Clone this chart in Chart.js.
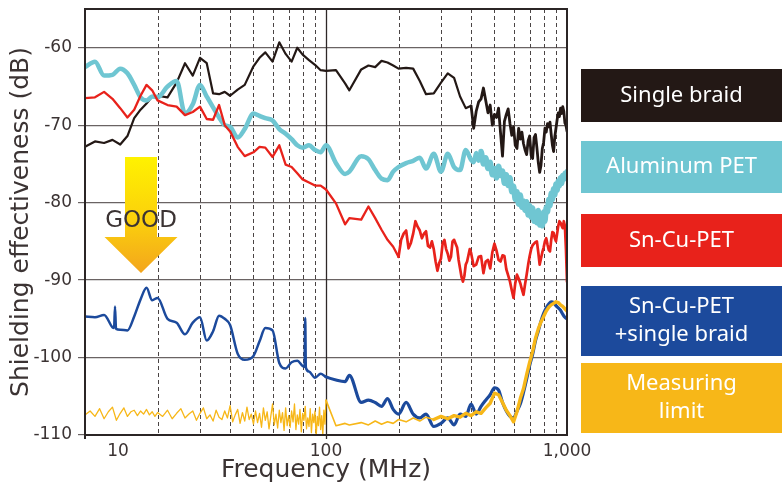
<!DOCTYPE html>
<html>
<head>
<meta charset="utf-8">
<title>Shielding effectiveness</title>
<script src="https://cdn.jsdelivr.net/npm/chart.js@4.4.1/dist/chart.umd.min.js"></script>
<style>
  html, body { margin: 0; padding: 0; background: #fff; }
  canvas { display: block; }
</style>
</head>
<body>
<canvas id="shieldChart" width="782" height="486"></canvas>
<script>
// frequency grid (MHz); shorter value arrays use the first entries only
const freqs = [
  10, 11, 12, 13, 14, 15, 16, 17, 18, 19,
  20, 22, 24, 26, 28, 30, 32, 34, 36, 38,
  40, 43, 46, 50, 53, 56, 60, 64, 68, 72,
  76, 80, 85, 90, 95, 100, 110, 120, 125, 140,
  150, 160, 170, 180, 190, 200, 215, 230, 245, 260,
  280, 300, 320, 340, 360, 380, 400, 420, 440, 460,
  480, 500, 520, 540, 560, 580, 600, 620, 640, 660,
  680, 700, 720, 740, 760, 780, 800, 820, 840, 860,
  880, 900, 920, 940, 960, 980, 1000
];
// finer steps where the traces become noisy
const midFreqs = [
  205, 210, 215, 220, 225, 230, 235, 240, 245, 250,
  255, 260, 265, 270, 275, 280, 285, 290, 295, 300,
  305, 310, 315, 320, 325, 330, 335, 340, 345, 350,
  355, 360, 365, 370, 375, 380, 385, 390, 395, 400
];
const hfFreqs = [
  410, 420, 430, 440, 450, 460, 470, 480, 490, 500,
  510, 520, 530, 540, 550, 560, 570, 580, 590, 600,
  610, 620, 630, 640, 650, 660, 670, 680, 690, 700,
  710, 720, 730, 740, 750, 760, 770, 780, 790, 800,
  810, 820, 830, 840, 850, 860, 870, 880, 890, 900,
  910, 920, 930, 940, 950, 960, 970, 980, 990, 1000
];

// shielding effectiveness (dB)
const singleBraid = [ // 10 .. 400 MHz
  -72.8, -72.1, -72.3, -71.9, -72.5, -71.4, -69.1, -68.0, -67.2, -66.3,
  -66.2, -66.4, -64.5, -62.0, -63.6, -61.3, -62.0, -65.9, -66.0, -65.7,
  -66.2, -65.4, -64.8, -62.4, -61.3, -60.6, -61.8, -59.3, -60.8, -61.8,
  -60.0, -60.9, -61.6, -62.2, -62.9, -63.0, -62.9, -64.6, -65.5, -62.8,
  -62.3, -62.5, -61.7, -61.9, -62.3, -62.7, -62.6, -62.7, -64.3, -66.0,
  -65.9, -64.5, -63.3, -63.9, -66.3, -67.8, -67.5
];
const singleBraidHF = [
  -70.4, -68.2, -67.0, -66.6, -65.2, -66.8, -68.4, -67.4, -70.0, -68.6,
  -69.0, -67.8, -71.0, -74.0, -69.5, -68.6, -67.9, -69.8, -71.3, -70.2,
  -72.6, -73.0, -70.4, -71.8, -70.9, -72.4, -73.2, -73.8, -72.0, -71.4,
  -73.9, -74.3, -71.6, -71.2, -72.9, -74.8, -76.1, -75.2, -73.0, -72.2,
  -70.4, -70.9, -69.8, -70.2, -69.6, -71.2, -72.6, -73.4, -71.5, -70.4,
  -69.3, -68.4, -68.9, -67.8, -68.5, -67.6, -68.2, -69.7, -70.0, -70.8
];

const aluminumPet = [ // 10 .. 400 MHz
  -62.5, -61.8, -63.6, -63.5, -62.7, -63.3, -64.8, -66.4, -66.8, -66.3,
  -66.4, -65.0, -64.3, -68.5, -67.3, -64.8, -66.3, -67.7, -69.0, -70.0,
  -70.2, -71.6, -70.5, -68.5, -68.8, -69.1, -69.4, -70.5, -71.1, -71.8,
  -72.6, -72.9, -72.6, -73.2, -73.5, -72.6, -74.9, -76.3, -76.0, -74.0,
  -74.4, -75.8, -76.9, -77.1, -76.0, -75.4, -74.9, -74.6, -74.2, -75.6,
  -73.7, -76.0, -73.7, -75.4, -75.8, -73.2, -74.5
];
const aluminumPetHF = [
  -74.8, -73.6, -74.6, -73.4, -75.0, -74.2, -75.6, -74.8, -76.4, -75.6,
  -76.8, -75.3, -76.5, -75.9, -77.5, -76.4, -77.8, -76.8, -78.6, -77.9,
  -79.6, -78.6, -80.2, -79.0, -80.6, -79.8, -81.0, -79.9, -81.6, -80.4,
  -81.9, -80.7, -82.4, -81.2, -82.6, -81.0, -82.9, -81.6, -83.0, -81.2,
  -82.4, -80.6, -81.2, -79.6, -80.4, -78.8, -79.6, -78.2, -79.0, -77.6,
  -78.4, -77.2, -77.8, -76.8, -77.5, -76.5, -77.0, -76.2, -76.8, -76.0
];

const snCuPet = [ // 10 .. 200 MHz
  -66.5, -66.4, -65.7, -66.6, -67.8, -69.0, -68.0, -66.2, -64.8, -65.5,
  -66.8, -67.4, -67.6, -68.7, -68.3, -67.6, -69.2, -69.3, -67.4, -70.0,
  -70.8, -72.8, -74.0, -73.5, -72.8, -72.9, -74.1, -72.6, -75.1, -75.4,
  -76.2, -77.0, -77.4, -77.8, -77.8, -78.3, -80.1, -82.8, -82.0, -82.2,
  -80.5, -82.0, -83.5, -84.8, -85.7, -87.0
];
const snCuPetMid = [
  -84.8, -84.0, -83.6, -85.9, -85.2, -84.0, -82.4, -83.1, -83.6, -84.6,
  -84.0, -83.7, -85.6, -85.8, -85.0, -86.0, -87.6, -88.8, -87.8, -87.2,
  -85.2, -84.8, -86.0, -86.6, -87.5, -87.0, -85.0, -84.8, -85.3, -85.8,
  -87.4, -88.5, -89.6, -90.2, -89.5, -88.0, -87.6, -86.8, -86.0, -86.5
];
const snCuPetHF = [
  -88.2, -88.0, -87.0, -86.9, -89.1, -87.6, -87.4, -88.5, -86.4, -85.3,
  -86.2, -87.4, -87.6, -86.8, -86.9, -88.6, -89.4, -90.2, -91.3, -92.3,
  -90.4, -89.3, -89.8, -90.4, -91.2, -91.9, -90.5, -89.3, -88.0, -86.9,
  -86.0, -85.5, -85.3, -85.1, -85.0, -86.4, -88.0, -87.2, -86.4, -85.8,
  -85.0, -84.6, -85.4, -86.1, -86.3, -84.8, -83.8, -83.9, -84.6, -85.0,
  -84.0, -83.0, -82.4, -82.6, -83.0, -83.3, -82.4, -83.0, -86.0, -90.2
];

const snCuBraid = [ // 10 .. 1000 MHz
  -94.7, -94.8, -94.5, -96.1, -96.4, -96.5, -94.7, -92.5, -91.0, -92.6,
  -92.3, -95.0, -95.5, -97.0, -95.5, -94.8, -97.8, -96.6, -94.6, -95.0,
  -95.8, -99.5, -100.3, -99.8, -97.9, -96.2, -96.5, -100.7, -101.4, -100.6,
  -100.4, -101.1, -101.8, -102.6, -102.1, -102.5, -102.9, -103.1, -102.3, -105.8,
  -105.5, -105.8, -106.3, -105.3, -106.7, -107.3, -105.8, -107.3, -107.8, -107.3,
  -108.9, -108.5, -107.8, -108.7, -107.3, -107.6, -106.0, -107.3, -106.3, -105.5,
  -104.8, -103.9, -104.2, -105.8, -106.9, -107.6, -107.8, -106.9, -106.0, -104.5,
  -102.8, -101.0, -99.6, -97.8, -96.6, -95.3, -94.3, -93.6, -93.1, -92.8,
  -92.9, -93.3, -93.6, -93.9, -94.4, -94.8, -95.0
];
// two narrow spikes on the Sn-Cu-PET + braid trace
const snCuBraidSpikeFreqs = [13.2, 13.32, 13.45, 81.5, 82.0, 82.5];
const snCuBraidSpikeVals = [-96.2, -93.4, -96.3, -101.2, -94.9, -101.3];

// measuring limit (noise floor) is sampled finer below 100 MHz
const limitFreqs = [
  10, 10.5, 11, 11.5, 12, 12.5, 13, 13.5, 14, 14.5, 15, 15.5, 16, 16.5, 17, 17.5, 18, 18.5, 19, 19.5, 20,
  21, 22, 23, 24, 25, 26, 27, 28, 29, 30, 31, 32, 33, 34, 35, 36, 37, 38, 39, 40,
  41, 42, 43, 44, 45, 46, 47, 48, 49, 50,
  51, 52, 53, 54, 55, 56, 57, 58, 59, 60, 61, 62, 63, 64, 65, 66, 67, 68, 69, 70,
  71, 72, 73, 74, 75, 76, 77, 78, 79, 80, 81, 82, 83, 84, 85, 86, 87, 88, 89, 90,
  91, 92, 93, 94, 95, 96, 97, 98, 99, 100,
  110, 120, 125, 140, 150, 160, 170, 180, 190, 200,
  215, 230, 245, 260, 280, 300, 320, 340, 360, 380, 400,
  420, 440, 460, 480, 500, 520, 540, 560, 580, 600,
  620, 640, 660, 680, 700, 720, 740, 760, 780, 800,
  820, 840, 860, 880, 900, 920, 940, 960, 980, 1000
];
const measuringLimit = [
  -107.4, -106.9, -107.6, -106.6, -107.9, -107.0, -106.4, -108.1, -107.2, -106.5, -107.6,
  -107.0, -106.8, -107.5, -106.9, -107.3, -106.7, -107.4, -107.0, -107.6, -107.1,
  -107.6, -106.8, -107.9, -107.2, -106.6, -107.8, -107.3, -106.9, -108.1, -107.2,
  -106.5, -107.9, -107.4, -108.2, -106.8, -107.7, -108.0, -106.9, -107.8, -106.2,
  -108.3, -107.4, -106.7, -108.5, -107.1, -108.2, -106.4, -108.0, -107.3, -108.6,
  -106.9, -108.4, -107.2, -109.0, -106.5, -108.1, -107.0, -109.2, -107.6, -106.0,
  -108.7, -107.3, -109.1, -106.8, -108.4, -107.1, -109.4, -106.5, -108.8, -107.5,
  -109.0, -106.9, -108.3, -106.0, -109.3, -107.4, -108.6, -106.7, -109.6, -107.2,
  -108.1, -106.3, -109.2, -107.8, -108.9, -106.6, -109.7, -107.3, -108.4, -106.9,
  -110.3, -107.6, -108.8, -106.4, -109.3, -107.5, -110.0, -106.8, -108.6, -105.5,
  -108.8, -108.5, -108.7, -108.4, -108.7, -108.2, -108.6, -108.3, -108.5, -108.0,
  -108.3, -107.8, -108.2, -107.7, -108.0, -107.6, -107.9, -107.5, -107.7, -107.2, -107.5,
  -107.0, -107.2, -106.5, -105.9, -104.6, -104.8, -105.8, -106.8, -107.5, -108.3,
  -107.0, -105.3, -104.0, -102.2, -100.6, -99.2, -97.5, -96.3, -95.4, -94.7,
  -94.0, -93.5, -93.2, -93.0, -92.8, -92.9, -93.2, -93.4, -93.7, -94.0
];

const yTicks = [-110, -100, -90, -80, -70, -60];
// the "10" label sits a little right of the 10 MHz frame edge in the original
const xTickAt = [13.7, 100, 1000];
const xTickLabels = ['10', '100', '1,000'];
const xGridLines = [20, 30, 40, 50, 60, 70, 80, 90, 100, 200, 300, 400, 500, 600, 700, 800, 900];

const seriesNames = [['Single braid'], ['Aluminum PET'], ['Sn-Cu-PET'], ['Sn-Cu-PET', '+single braid'], ['Measuring', 'limit']];
const seriesColors = ['#231815', '#6fc6d2', '#e8221b', '#1c4a9c', '#f7b718'];

const textColor = '#3b3333';
const axisFont = 'DejaVu Sans';

function toPoints(xs, ys) {
  return ys.map((v, i) => ({ x: xs[i], y: v }));
}

const braidPoints = toPoints(freqs, singleBraid).concat(toPoints(hfFreqs, singleBraidHF));
const aluPoints = toPoints(freqs, aluminumPet).concat(toPoints(hfFreqs, aluminumPetHF));
const snCuPoints = toPoints(freqs, snCuPet)
  .concat(toPoints(midFreqs, snCuPetMid))
  .concat(toPoints(hfFreqs, snCuPetHF));
const snCuBraidPoints = toPoints(freqs, snCuBraid)
  .concat(toPoints(snCuBraidSpikeFreqs, snCuBraidSpikeVals))
  .sort((a, b) => a.x - b.x);

// wider strokes where the measured traces turn into noisy bands
function widthFrom(fStart, thin, thick) {
  return c => (c.p0.parsed.x >= fStart ? thick : thin);
}

function drawGoodArrow(ctx, a) {
  const cx = a.left + 56;
  const shaftW = 32, headW = 73;
  const shaftTop = a.top + 148, headTop = a.top + 228, tip = a.top + 264;
  const grad = ctx.createLinearGradient(0, shaftTop, 0, tip);
  grad.addColorStop(0, '#fff200');
  grad.addColorStop(0.55, '#fbd00c');
  grad.addColorStop(1, '#f3a51d');
  ctx.fillStyle = grad;
  ctx.beginPath();
  ctx.moveTo(cx - shaftW / 2, shaftTop);
  ctx.lineTo(cx + shaftW / 2, shaftTop);
  ctx.lineTo(cx + shaftW / 2, headTop);
  ctx.lineTo(cx + headW / 2, headTop);
  ctx.lineTo(cx, tip);
  ctx.lineTo(cx - headW / 2, headTop);
  ctx.lineTo(cx - shaftW / 2, headTop);
  ctx.closePath();
  ctx.fill();

  ctx.fillStyle = textColor;
  ctx.font = '23px "' + axisFont + '"';
  ctx.textAlign = 'center';
  ctx.textBaseline = 'middle';
  ctx.fillText('GOOD', cx, a.top + 212);
}

const decorations = {
  id: 'decorations',
  beforeDatasetsDraw(chart) {
    const { ctx, chartArea: a, scales: { x } } = chart;
    ctx.save();
    xGridLines.forEach(v => {
      const px = Math.round(x.getPixelForValue(v)) + 0.5;
      const decade = Math.log10(v) % 1 === 0;
      ctx.beginPath();
      ctx.setLineDash(decade ? [] : [4, 3]);
      ctx.strokeStyle = decade ? '#2e2828' : '#4a4444';
      ctx.lineWidth = decade ? 1.3 : 1;
      ctx.moveTo(px, a.top);
      ctx.lineTo(px, decade ? a.bottom + 4 : a.bottom);
      ctx.stroke();
    });
    ctx.setLineDash([]);
    drawGoodArrow(ctx, a);
    ctx.restore();
  },
  afterDatasetsDraw(chart) {
    const { ctx, chartArea: a } = chart;
    ctx.save();
    ctx.strokeStyle = '#2b2525';
    ctx.lineWidth = 2;
    ctx.strokeRect(a.left, a.top, a.right - a.left, a.bottom - a.top);
    ctx.beginPath();
    ctx.moveTo(a.left, a.bottom);
    ctx.lineTo(a.left, a.bottom + 4);
    ctx.stroke();
    ctx.restore();
  },
  afterDraw(chart) {
    // colour-block legend at the right
    const { ctx, chartArea: a, width } = chart;
    const left = a.right + 14;
    const tops = [69, 141, 214, 286, 363];
    const heights = [53, 52, 53, 70, 70];
    ctx.save();
    ctx.font = '22px "Noto Sans"';
    ctx.textAlign = 'center';
    ctx.textBaseline = 'middle';
    seriesNames.forEach((lines, i) => {
      ctx.fillStyle = seriesColors[i];
      ctx.fillRect(left, tops[i], width - left, heights[i]);
      ctx.fillStyle = '#ffffff';
      const mid = tops[i] + heights[i] / 2;
      lines.forEach((t, j) => {
        ctx.fillText(t, (left + width) / 2, mid + (j - (lines.length - 1) / 2) * 28);
      });
    });
    ctx.restore();
  }
};

new Chart(document.getElementById('shieldChart'), {
  type: 'line',
  data: {
    datasets: [
      {
        label: seriesNames[4].join(' '),
        data: toPoints(limitFreqs, measuringLimit),
        borderColor: seriesColors[4],
        borderWidth: 1.3,
        segment: { borderWidth: c => c.p0.parsed.x >= 280 ? 3.4 : (c.p0.parsed.x >= 100 ? 1.6 : 1.3) },
        order: 0
      },
      {
        label: seriesNames[3].join(' '),
        data: snCuBraidPoints,
        borderColor: seriesColors[3],
        borderWidth: 2.5,
        cubicInterpolationMode: 'monotone',
        segment: { borderWidth: widthFrom(100, 2.5, 3.2) },
        order: 1
      },
      {
        label: seriesNames[2].join(' '),
        data: snCuPoints,
        borderColor: seriesColors[2],
        borderWidth: 2.3,
        segment: { borderWidth: widthFrom(200, 2.3, 2.7) },
        order: 2
      },
      {
        label: seriesNames[1].join(' '),
        data: aluPoints,
        borderColor: seriesColors[1],
        borderWidth: 4.5,
        cubicInterpolationMode: 'monotone',
        segment: { borderWidth: widthFrom(440, 4.5, 5.5) },
        order: 3
      },
      {
        label: seriesNames[0].join(' '),
        data: braidPoints,
        borderColor: seriesColors[0],
        borderWidth: 2.2,
        segment: { borderWidth: widthFrom(400, 2.2, 2.8) },
        order: 4
      }
    ]
  },
  options: {
    responsive: false,
    devicePixelRatio: 1,
    animation: false,
    layout: { padding: { left: 0, right: 215, top: 9, bottom: 0 } },
    elements: {
      point: { radius: 0 },
      line: { tension: 0, borderJoinStyle: 'round', borderCapStyle: 'round' }
    },
    plugins: {
      legend: { display: false },
      tooltip: { enabled: false }
    },
    scales: {
      x: {
        type: 'logarithmic',
        min: 10,
        max: 1000,
        afterBuildTicks: s => { s.ticks = xTickAt.map(v => ({ value: v })); },
        afterFit: s => { s.height = 51; s.paddingLeft = 0; s.paddingRight = 0; },
        grid: { display: false, drawTicks: false },
        border: { display: false },
        ticks: {
          autoSkip: false,
          maxRotation: 0,
          padding: 6,
          color: textColor,
          font: { family: axisFont, size: 17 },
          callback: (v, i) => xTickLabels[i]
        },
        title: {
          display: true,
          text: 'Frequency (MHz)',
          color: textColor,
          font: { family: axisFont, size: 25 },
          padding: { top: 0, bottom: 1 }
        }
      },
      y: {
        min: -110,
        max: -55,
        afterBuildTicks: s => { s.ticks = yTicks.map(v => ({ value: v })); },
        afterFit: s => { s.width = 85; s.paddingTop = 0; s.paddingBottom = 0; },
        grid: { color: '#6a6363', lineWidth: 1.2, tickLength: 7, drawTicks: true },
        border: { display: false },
        ticks: {
          padding: 6,
          color: textColor,
          font: { family: axisFont, size: 17 }
        },
        title: {
          display: true,
          text: 'Shielding effectiveness (dB)',
          color: textColor,
          font: { family: axisFont, size: 25 },
          padding: { top: 6, bottom: 0 }
        }
      }
    }
  },
  plugins: [decorations]
});
</script>
</body>
</html>
